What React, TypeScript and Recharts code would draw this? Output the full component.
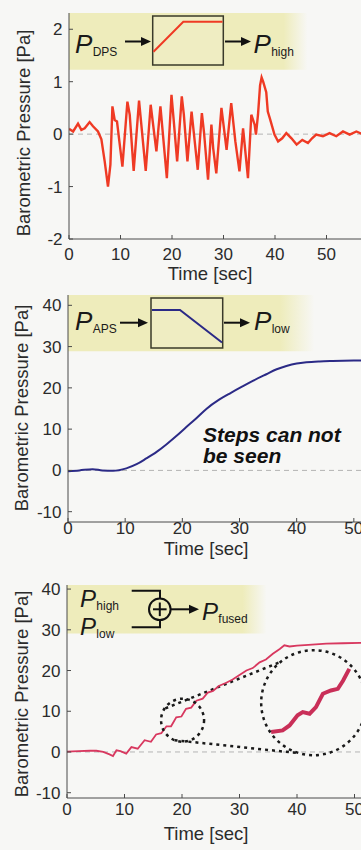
import React from 'react'
import {
  Line,
  LineChart,
  ReferenceArea,
  ReferenceDot,
  ReferenceLine,
  XAxis,
  YAxis,
} from 'recharts'

// shared x ticks (seconds); 60 is beyond the cropped right edge
const timeTicks = [0, 10, 20, 30, 40, 50]

// panel 1: differential pressure sensor, high-passed
const dpsTime = [
  0, 0.8, 1.75, 2.4, 3.05, 4.0, 4.66, 5.63, 6.29, 6.93, 7.57, 8.04, 8.43, 8.87, 9.32,
  10.37, 11.34, 11.79, 12.56, 13.6, 14.9, 15.86, 16.97, 17.75, 19.0, 19.9, 20.3, 21.0,
  21.9, 22.3, 23.0, 23.8, 25.0, 25.8, 26.2, 27.0, 27.65, 28.0, 28.6, 29.6, 30.6, 31.5,
  32.3, 33.1, 33.8, 34.75, 35.4, 36.05, 36.3, 36.7, 37.1, 37.4, 37.7, 38.3, 38.6, 39.0,
  39.9, 40.6, 41.4, 42.2, 43.2, 44.2, 45.3, 46.4, 47.2, 48.0, 49.3, 50.6, 51.9, 53.2,
  54.5, 55.8, 57.0, 58.2, 59.4, 60,
]
const dpsPressure = [
  0.1, 0.05, 0.2, 0.08, 0.11, 0.23, 0.15, 0.05, -0.1, -0.52, -1.0, -0.58, 0.53, 0.27, 0.24,
  -0.62, 0.62, 0.37, -0.7, 0.64, -0.7, 0.56, -0.33, 0.53, -0.84, 0.75, 0.3, -0.52,
  0.72, 0.37, -0.52, 0.43, -0.68, 0.4, 0.05, -0.87, 0.18, -0.27, -0.75, 0.5, -0.3, 0.59,
  -0.14, -0.71, 0.11, -0.84, 0.37, 0.18, -0.01, 0.37, 0.93, 1.08, 1.0, 0.8, 0.43, 0.3,
  -0.01, -0.14, -0.08, 0.02, -0.08, -0.2, -0.11, -0.17, -0.08, -0.01, -0.04, 0.02, -0.04, 0.05,
  -0.01, 0.05, 0.0, 0.04, -0.02, 0.02,
]

// panel 2: absolute pressure sensor, low-passed
const apsTime = [
  0, 2, 4.3, 6, 7.9, 10.2, 12, 13.7, 15.5, 17.2, 19, 20.7, 22.5, 24.2, 26.5, 28.5, 30.6,
  32.5, 34.7, 36.5, 38.2, 40, 41.7, 44, 46.3, 50, 55, 60,
]
const apsPressure = [
  -0.2, 0, 0.3, 0, -0.1, 0.5, 1.5, 2.9, 4.5, 6.3, 8.4, 10.5, 12.7, 14.9, 17.2, 18.8, 20.4,
  21.8, 23.3, 24.5, 25.3, 25.9, 26.2, 26.4, 26.5, 26.6, 26.7, 26.8,
]

// panel 3: fused signal
const fusedTime = [
  0, 2, 4, 5.1, 6.3, 7.4, 8.0, 8.6, 9.3, 10.3, 11.2, 12.3, 13.5, 14.6, 15.5, 16.4, 17.3,
  18.1, 19.0, 19.9, 20.7, 21.6, 22.5, 23.6, 24.5, 25.4, 26.4, 27.7, 28.8, 30.0, 31.2, 32.3,
  33.5, 34.6, 35.8, 37.0, 37.8, 38.7, 40, 42, 45.1, 48, 51, 55, 60,
]
const fusedPressure = [
  0.1, 0.2, 0.3, 0.3, 0, -0.6, -1.0, 0.4, 0.2, -0.4, 1.2, 0.8, 2.9, 2.5, 4.3, 4.6, 6.3,
  6.3, 8.5, 8.7, 10.6, 10.9, 12.6, 13.1, 14.6, 15.0, 16.2, 17.0, 17.8, 18.9, 20.0, 20.6,
  22.0, 22.7, 24.1, 25.3, 26.2, 25.9, 26.1, 26.3, 26.6, 26.7, 26.8, 26.9, 27.0,
]

// magnified detail drawn inside the big dashed circle
const zoomTime = [35.5, 37.5, 38.7, 40.1, 41.0, 42.2, 43.3, 44.5, 45.9, 47.1, 48.0, 49.1]
const zoomPressure = [4.9, 5.3, 6.5, 9.0, 9.8, 9.4, 11.0, 14.3, 15.1, 15.5, 17.5, 20.4]

const dpsData = dpsTime.map((t, i) => ({ t, p: dpsPressure[i] }))
const apsData = apsTime.map((t, i) => ({ t, p: apsPressure[i] }))
const fusedData = fusedTime.map((t, i) => ({ t, p: fusedPressure[i] }))
const zoomData = zoomTime.map((t, i) => ({ t, p: zoomPressure[i] }))

const FONT = '"Liberation Sans", Arial, Helvetica, sans-serif'
const INK = '#2b2b2b'
const AXIS = '#4a4a4a'
const YELLOW = '#eeecbb'
const tickStyle = { fill: INK, fontSize: 17, fontFamily: FONT }

const axes = (
  yDomain: number[],
  yTicks: number[],
  xHeight: number,
  xMargin: number,
  yWidth: number
) => [
  <XAxis
    key="xb"
    type="number"
    dataKey="t"
    domain={[0, 60]}
    ticks={timeTicks}
    interval={0}
    allowDataOverflow
    height={xHeight}
    tickSize={-4}
    tickMargin={xMargin}
    stroke={AXIS}
    tick={tickStyle}
  />,
  <XAxis
    key="xt"
    xAxisId="top"
    orientation="top"
    type="number"
    domain={[0, 60]}
    ticks={timeTicks}
    interval={0}
    height={0}
    tickSize={-4}
    tickFormatter={() => ''}
    stroke={AXIS}
  />,
  <YAxis
    key="y"
    type="number"
    domain={yDomain}
    ticks={yTicks}
    interval={0}
    allowDataOverflow
    width={yWidth}
    tickSize={-4}
    tickMargin={10.5}
    stroke={AXIS}
    tick={tickStyle}
  />,
  <ReferenceLine key="zero" y={0} stroke="#b4b4b4" strokeDasharray="5 4" />,
]

const fade = (id: string, start: number) => (
  <defs>
    <linearGradient id={id} x1="0" y1="0" x2="1" y2="0">
      <stop offset="0" stopColor={YELLOW} stopOpacity={1} />
      <stop offset={start} stopColor={YELLOW} stopOpacity={1} />
      <stop offset="1" stopColor={YELLOW} stopOpacity={0} />
    </linearGradient>
  </defs>
)

const Arrow = ({ x1, x2, y }: { x1: number; x2: number; y: number }) => (
  <g>
    <line x1={x1} y1={y} x2={x2 - 8} y2={y} stroke="#111" strokeWidth={2} />
    <polygon points={`${x2 - 10},${y - 4.5} ${x2},${y} ${x2 - 10},${y + 4.5}`} fill="#111" />
  </g>
)

const P = ({ x, y, sub, size = 26 }: { x: number; y: number; sub: string; size?: number }) => (
  <g fill="#1a1a1a" fontFamily={FONT}>
    <text x={x} y={y} fontSize={size} fontStyle="italic">
      P
    </text>
    <text x={x + size * 0.68} y={y + 2.5} fontSize={12}>
      {sub}
    </text>
  </g>
)

export default function App() {
  return (
    <div
      style={{
        position: 'absolute',
        left: 0,
        top: 0,
        width: 361,
        height: 850,
        overflow: 'hidden',
        background: '#f7f7f5',
        fontFamily: FONT,
      }}
    >
      <div style={{ position: 'absolute', left: 0, top: 0 }}>
        <LineChart width={400} height={290} margin={{ top: 13, right: 22, bottom: 0, left: 0 }}>
          {fade('fade1', 0.9)}
          <ReferenceArea x1={0} x2={46.3} y1={1.23} y2={2.31} fill="url(#fade1)" fillOpacity={1} stroke="none" />
          {axes([-2, 2.31], [-2, -1, 0, 1, 2], 51, 13, 69)}
          <Line
            data={dpsData}
            dataKey="p"
            type="linear"
            stroke="#ef3a24"
            strokeWidth={2.4}
            dot={false}
            isAnimationActive={false}
          />
        </LineChart>
      </div>

      <div style={{ position: 'absolute', left: 0, top: 280 }}>
        <LineChart width={421} height={290} margin={{ top: 15, right: 10, bottom: 0, left: 0 }}>
          {fade('fade2', 0.86)}
          <ReferenceArea x1={0} x2={43.1} y1={28.9} y2={42.5} fill="url(#fade2)" fillOpacity={1} stroke="none" />
          {axes([-12.5, 42.5], [-10, 0, 10, 20, 30, 40], 48, 4, 68)}
          <Line
            data={apsData}
            dataKey="p"
            type="monotone"
            stroke="#2b2a86"
            strokeWidth={2}
            dot={false}
            isAnimationActive={false}
          />
        </LineChart>
      </div>

      <div style={{ position: 'absolute', left: 0, top: 570 }}>
        <LineChart width={422} height={280} margin={{ top: 15, right: 10, bottom: 0, left: 0 }}>
          {fade('fade3', 0.88)}
          <ReferenceArea x1={0} x2={34.7} y1={29.1} y2={41} fill="url(#fade3)" fillOpacity={1} stroke="none" />
          {axes([-11.3, 41], [-10, 0, 10, 20, 30, 40], 52, 9, 67)}
          <ReferenceDot x={20.1} y={7.8} r={21.5} fill="none" stroke="#1a1a1a" strokeWidth={2.5} strokeDasharray="3 4" />
          <ReferenceDot x={42.9} y={12.1} r={52.5} fill="none" stroke="#1a1a1a" strokeWidth={2.5} strokeDasharray="3 4" />
          <ReferenceLine
            segment={[{ x: 17.1, y: 10.7 }, { x: 37.3, y: 22.2 }]}
            stroke="#1a1a1a"
            strokeWidth={2.5}
            strokeDasharray="3 4"
          />
          <ReferenceLine
            segment={[{ x: 18.7, y: 2.9 }, { x: 40.4, y: -0.3 }]}
            stroke="#1a1a1a"
            strokeWidth={2.5}
            strokeDasharray="3 4"
          />
          <Line
            data={fusedData}
            dataKey="p"
            type="linear"
            stroke="#d8385f"
            strokeWidth={1.8}
            dot={false}
            isAnimationActive={false}
          />
          <Line
            data={zoomData}
            dataKey="p"
            type="linear"
            stroke="#c92f58"
            strokeWidth={4}
            dot={false}
            isAnimationActive={false}
          />
        </LineChart>
      </div>

      <svg
        width={361}
        height={850}
        style={{ position: 'absolute', left: 0, top: 0, pointerEvents: 'none' }}
        fontFamily={FONT}
      >
        {/* axis titles */}
        <g fill={INK} fontSize={18.5} textAnchor="middle">
          <text transform="translate(29.5,133) rotate(-90)">Barometric Pressure [Pa]</text>
          <text transform="translate(28,408) rotate(-90)">Barometric Pressure [Pa]</text>
          <text transform="translate(28,694) rotate(-90)">Barometric Pressure [Pa]</text>
          <text x={210} y={280}>Time [sec]</text>
          <text x={206} y={555}>Time [sec]</text>
          <text x={206} y={840}>Time [sec]</text>
        </g>

        {/* panel 1 schematic */}
        <P x={75} y={53} sub="DPS" />
        <Arrow x1={125} x2={151} y={41.5} />
        <rect x={152.7} y={16} width={70.6} height={49} fill="#efedc2" stroke="#3a3a2a" strokeWidth={1.5} />
        <polyline points="153.5,51.7 183.3,21.7 222.5,21.7" fill="none" stroke="#ef3a24" strokeWidth={2} />
        <Arrow x1={225} x2={251} y={41.5} />
        <P x={253.5} y={53} sub="high" />

        {/* panel 2 schematic */}
        <P x={75} y={330} sub="APS" />
        <Arrow x1={120} x2={148} y={322.7} />
        <rect x={151} y={298} width={71.7} height={50} fill="#efedc2" stroke="#3a3a2a" strokeWidth={1.5} />
        <polyline points="152,310 180,310 222,342.5" fill="none" stroke="#2b2a86" strokeWidth={2} />
        <Arrow x1={224} x2={250} y={322.7} />
        <P x={254} y={330} sub="low" />
        <g fill="#111" fontSize={21} fontWeight="bold" fontStyle="italic">
          <text x={203} y={442}>Steps can not</text>
          <text x={203} y={463}>be seen</text>
        </g>

        {/* panel 3 schematic */}
        <P x={80} y={607} sub="high" size={24} />
        <P x={80} y={635} sub="low" size={24} />
        <polyline points="131.7,590.7 160,590.7 160,598.5" fill="none" stroke="#111" strokeWidth={2} />
        <polyline points="131.7,627.3 160,627.3 160,620" fill="none" stroke="#111" strokeWidth={2} />
        <circle cx={159.8} cy={609.3} r={10.8} fill="none" stroke="#111" strokeWidth={2} />
        <line x1={153} y1={609.3} x2={166.6} y2={609.3} stroke="#111" strokeWidth={2} />
        <line x1={159.8} y1={602.5} x2={159.8} y2={616.1} stroke="#111" strokeWidth={2} />
        <Arrow x1={170.6} x2={199} y={609.3} />
        <P x={202} y={620} sub="fused" size={24} />
      </svg>
    </div>
  )
}
